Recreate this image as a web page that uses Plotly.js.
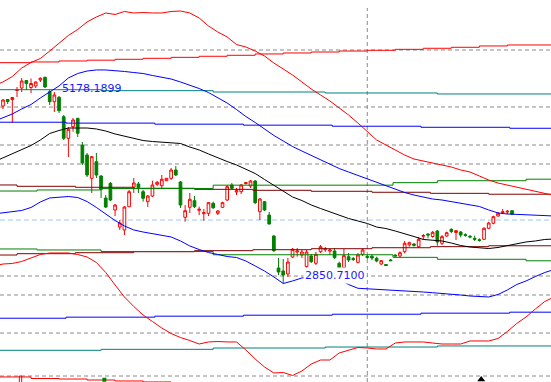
<!DOCTYPE html>
<html><head><meta charset="utf-8">
<script src="https://cdn.plot.ly/plotly-3.0.1.min.js"></script>
<style>html,body{margin:0;padding:0;background:#fff;overflow:hidden}#chart{width:551px;height:382px}</style>
</head><body><div id="chart"></div>
<script>
// ---- candle data (index, open, high, low, close) ----
const candleIdx = [0,1,2,3,4,5,6,7,8,9,10,11,12,13,14,15,16,17,18,19,20,21,22,23,24,25,26,27,28,29,30,31,32,33,34,35,36,37,38,39,40,41,42,43,44,45,46,47,48,49,50,51,52,53,54,55,56,57,58,59,60,61,62,63,64,65,66,67,68,69,70,71,72,73,74,75,76,77,78,79,80,81,82,83,84,85,86,87,88,89,90,91,92,93,94,95,96,97,98,99,100,101,102,103,104,105,106,107,108,109];
const openP = [4848.5,4921.6,4921.6,5022.9,5051,5135.4,5056.6,5073.5,5141,5171.4,
 5009.4,4896.9,4946.4,4728.1,4485.1,4615.6,4710.1,4409.8,4297.3,4035.1,
 4221.9,4061,3813.5,3978.9,3678.5,3487.3,3453.5,3715.6,3937.3,3971,
 3884.4,3771.9,3836,3967.6,3951.9,4008.1,4035.1,4128.5,3993.5,3596.4,
 3708.9,3783.1,3675.1,3636.9,3641.4,3753.9,3641.4,3708.9,3791,3959.8,
 3881,3884.4,3976.6,3948.5,4004.8,3659.4,3771.9,3622.3,3386,3026,
 2992.3,2958.5,3149.8,3206,3172.3,3042.9,3161,3078.9,3209.4,3231.9,
 3217.3,3217.3,3078.9,3029.4,3153.1,3132.9,3090.1,3180.1,3155.4,3157.6,
 3135.1,3071,3065.4,3116,3172.3,3161,3209.4,3284.8,3296,3265.6,
 3382.6,3408.5,3380.4,3442.3,3303.9,3386,3461.4,3425.4,3431,3400.6,
 3382.6,3360.1,3344.4,3348.9,3472.6,3528.9,3611,3649.3,3656,3670.6];
const highP = [4927.3,4927.3,4949.8,5062.3,5163.5,5141,5157.9,5124.1,5171.4,5178.1899,
 5036.4,5006,4961,4747.3,4612.3,4713.5,4713.5,4443.5,4319.8,4286,
 4319.8,4072.3,3847.3,3993.5,3746,3566,3723.5,3903.5,4038.5,3993.5,
 3903.5,3847.3,4008.1,4004.8,4072.3,4038.5,4151,4173.5,4004.8,3734.8,
 3869.8,3836,3715.6,3689.8,3768.5,3771.9,3678.5,3771.9,3959.8,3982.3,
 3926,3971,3993.5,4016,4016,3813.5,3779.8,3656,3397.3,3138.5,
 3127.3,3138.5,3251,3251,3228.5,3228.5,3183.5,3206,3284.8,3262.3,
 3239.8,3251,3096.9,3239.8,3194.8,3149.8,3194.8,3247.6,3172.3,3183.5,
 3153.1,3116,3071,3127.3,3177.9,3211.6,3329.8,3321.9,3307.3,3374.8,
 3408.5,3416.4,3442.3,3453.5,3397.3,3434.4,3472.6,3453.5,3442.3,3416.4,
 3397.3,3389.4,3360.1,3483.9,3546.9,3614.4,3656,3689.8,3678.5,3675.1];
const lowP = [4814.8,4871,4657.3,4949.8,5006,5028.5,4994.8,5051,5118.5,5051,
 4859.8,4781,4769.8,4466,4274.8,4559.4,4499.8,4184.8,4049.8,3869.8,
 4038.5,3813.5,3701,3779.8,3611,3453.5,3397.3,3712.3,3869.8,3869.8,
 3771.9,3712.3,3824.8,3948.5,3926,4004.8,4016,4061,3701,3546.9,
 3644.8,3701,3622.3,3558.1,3611,3689.8,3622.3,3701,3779.8,3914.8,
 3847.3,3858.5,3965.4,3926,3746,3566,3667.3,3515.4,3206,2947.3,
 2850.71,2924.8,3138.5,3153.1,3138.5,3026,3082.3,3059.8,3194.8,3206,
 3172.3,3127.3,3003.5,3014.8,3093.5,3104.8,3078.9,3161,3127.3,3116,
 3090.1,3059.8,3048.5,3104.8,3155.4,3141.9,3191.4,3265.6,3265.6,3251,
 3341,3360.1,3366.9,3276.9,3284.8,3378.1,3416.4,3341,3371.4,3378.1,
 3360.1,3329.8,3321.9,3341,3464.8,3517.6,3603.1,3633.5,3630.1,3625.6];
const closeP = [4916,4899.1,4944.1,5034.1,5129.8,5101.6,5101.6,5118.5,5160.1,5062.3,
 4896.9,4972.3,4795.6,4485.1,4586.4,4691,4541.4,4207.3,4072.3,4278.1,
 4072.3,3911.4,3712.3,3791,3734.8,3532.3,3712.3,3884.4,3982.3,3933.9,
 3810.1,3836,3959.8,3990.1,4023.9,4035.1,4128.5,4072.3,3734.8,3670.6,
 3798.9,3715.6,3686.4,3648.1,3760.6,3704.4,3667.3,3760.6,3940.6,3922.6,
 3895.6,3959.8,3985.6,4004.8,3760.6,3802.3,3678.5,3521,3220.6,2981,
 2947.3,3093.5,3236.4,3217.3,3206,3206,3096.9,3180.1,3265.6,3243.1,
 3228.5,3141.9,3022.6,3164.4,3116,3121.6,3172.3,3228.5,3146.4,3138.5,
 3104.8,3108.1,3054.1,3108.1,3161,3198.1,3303.9,3310.6,3281.4,3348.9,
 3391.6,3397.3,3427.6,3318.5,3378.1,3423.1,3436.6,3445.6,3397.3,3391.6,
 3374.8,3348.9,3335.4,3472.6,3532.3,3603.1,3641.4,3658.3,3663.9,3630.1];

// ---- band / moving-average curves ----
const bandX = [-2,0,2,4,6,8,10,12,14,16,18,20,22,24,26,28,30,32,34,36,38,40,42,44,46,48,50,52,54,56,58,60,62,64,66,68,70,72,74,76,78,80,82,84,86,88,90,92,94,96,98,100,102,104,106,108,110,112,114,116,118];
const outerUpper = [5074,5119,5180,5276,5338,5383,5467,5557,5642,5709,5794,5850,5895,5878,5912,5895,5900,5895,5895,5912,5917,5895,5839,5749,5681,5625,5540,5512,5467,5411,5332,5265,5197,5119,5040,4972,4905,4826,4747,4657,4567,4466,4410,4354,4297,4252,4230,4207,4185,4162,4129,4106,4061,4016,3982,3960,3937,3915,3892,3870,3842];
const innerUpper = [4674,4714,4759,4815,4865,4939,5006,5074,5164,5214,5242,5254,5254,5248,5237,5225,5214,5192,5175,5152,5119,5085,5045,5000,4944,4882,4809,4730,4663,4590,4517,4455,4393,4342,4292,4241,4190,4145,4106,4067,4027,3994,3954,3915,3875,3847,3825,3802,3791,3774,3757,3740,3718,3679,3645,3634,3628,3622,3617,3611,3611];
const midLine = [4219,4264,4309,4359,4404,4466,4539,4573,4601,4601,4601,4590,4567,4534,4511,4483,4460,4449,4444,4432,4427,4387,4354,4309,4264,4224,4185,4140,4089,4022,3954,3892,3825,3785,3735,3695,3656,3617,3583,3555,3527,3487,3470,3442,3414,3380,3347,3335,3330,3307,3279,3262,3251,3245,3257,3279,3302,3319,3330,3347,3352];
const innerLower = [3634,3645,3656,3673,3707,3769,3814,3825,3830,3819,3774,3707,3634,3560,3499,3454,3431,3414,3392,3375,3330,3274,3234,3200,3178,3155,3144,3105,3049,2992,2925,2852,2880,2914,2925,2925,2919,2902,2840,2798,2793,2786,2779,2773,2767,2762,2756,2748,2741,2734,2722,2711,2703,2700,2728,2779,2840,2880,2930,2975,3009];
const outerLower = [3049,3071,3077,3099,3139,3178,3195,3195,3195,3178,3150,3088,2975,2835,2700,2593,2497,2424,2351,2289,2244,2210,2171,2194,2199,2194,2194,2104,2002,1912,1845,1850,1817,1867,1946,1991,1991,2070,2098,2132,2126,2115,2115,2182,2194,2194,2194,2182,2171,2171,2171,2205,2205,2205,2233,2312,2402,2475,2565,2649,2700];

// ---- stepped channel lines ----
const redStepX = [-2,6,12,18,24,30,36,42,48,54,60,66,72,78,84,90,96,102,108,120];
const redStepTop = [5336,5344,5355,5364,5374,5385,5396,5408,5419,5434,5445,5456,5467,5475,5486,5498,5509,5524,5535,5535];
const redStepBotX = [-2,6,12,18,24,30,36];
const redStepBot = [1800,1783,1777,1766,1755,1744,1732];
const tealX = [-2,21,45,69,93,120];
const tealTop = [5032,5021,5006,4995,4984,4984];
const tealBot = [2100,2111,2126,2137,2149,2149];
const blueX = [-2,13.5,32.5,51.5,70.5,89.5,108.5,120];
const blueTop = [4666,4656,4644,4633,4621,4609,4598,4598];
const blueBot = [2461,2473,2484,2495,2506,2518,2529,2529];
const brownX = [-2,3,15.5,28,41,53.5,66,79,91.5,104,120];
const brownTop = [3960,3945,3934,3923,3911,3900,3889,3878,3866,3856,3856];
const brownBot = [3172,3187,3198,3209,3221,3232,3243,3254,3266,3276,3276];
const greenX = [-2,7.3,21,45,83.5,93,112,120];
const greenTop = [3892,3904,3920,3958,3986,4008,4025,4025];
const greenBot = [3240,3229,3212,3175,3146,3124,3107,3107];

// ---- reference levels, cursor and labels ----
const grayLevels = [5478.5,4837.3,4409.8,4196,2936,2722.3,2294.8,1811];
const midLevel = 3566;
const cursorIdx = 78;
const cursorTop = 5951;
const labelTexts = ['5178.1899','2850.7100'];
const labelX = [12.1, 64.2];
const labelY = [5040, 2942];
const labelBg = ['rgba(0,0,0,0)', '#ffffff'];
// bottom signal markers
const sigSquareX = [21.7], sigSquareY = [1769];
const sigTriX = [102.4], sigTriY = [1771];
const sigMarkX = [3.5,3.5,4.0,4.0], sigMarkY = [1735,1811,1811,1735];

const Y0 = 1743.5, Y1 = 6041, X0 = -0.642, X1 = 117.34;

function line(x, y, color, shape) {
  return {type:'scatter', mode:'lines', x:x, y:y, hoverinfo:'skip', showlegend:false,
          line:{color:color, width:1, shape:shape || 'linear'}};
}
const traces = [
  line(redStepX, redStepTop, '#ff0000', 'hv'),
  line(redStepBotX, redStepBot, '#ff0000', 'hv'),
  line(tealX, tealTop, '#008080', 'hv'),
  line(tealX, tealBot, '#008080', 'hv'),
  line(blueX, blueTop, '#0000ff', 'hv'),
  line(blueX, blueBot, '#0000ff', 'hv'),
  line(brownX, brownTop, '#800000', 'hv'),
  line(brownX, brownBot, '#800000', 'hv'),
  line(greenX, greenTop, '#008000', 'hv'),
  line(greenX, greenBot, '#008000', 'hv'),
  line(bandX, outerUpper, '#ff0000'),
  line(bandX, outerLower, '#ff0000'),
  line(bandX, innerUpper, '#0000ff'),
  line(bandX, innerLower, '#0000ff'),
  line(bandX, midLine, '#000000'),
  line(sigMarkX, sigMarkY, '#ff0000'),
  {type:'scatter', mode:'markers', x:sigSquareX, y:sigSquareY, hoverinfo:'skip', showlegend:false,
   marker:{symbol:'square', size:4, color:'#008000'}},
  {type:'scatter', mode:'markers', x:sigTriX, y:sigTriY, hoverinfo:'skip', showlegend:false,
   marker:{symbol:'triangle-up', size:7, color:'#000000'}},
  {type:'candlestick', x:candleIdx, open:openP, high:highP, low:lowP, close:closeP,
   hoverinfo:'skip', showlegend:false, whiskerwidth:0,
   increasing:{line:{color:'#ff0000', width:1}, fillcolor:'#ffffff'},
   decreasing:{line:{color:'#008000', width:1}, fillcolor:'#008000'}}
];

const shapes = grayLevels.map(v => ({type:'line', xref:'paper', x0:0, x1:1, yref:'y', y0:v, y1:v,
  layer:'below', line:{color:'#8a8a8a', width:1, dash:'4px,3px'}}));
shapes.push({type:'line', xref:'paper', x0:0, x1:1, yref:'y', y0:midLevel, y1:midLevel,
  layer:'below', line:{color:'#9cc8f2', width:1, dash:'5px,3px'}});
shapes.push({type:'line', xref:'x', x0:cursorIdx, x1:cursorIdx, yref:'y', y0:Y0, y1:cursorTop,
  layer:'below', line:{color:'#8a8a8a', width:1, dash:'4px,3px'}});

const annotations = labelTexts.map((t, k) => ({x:labelX[k], y:labelY[k], xref:'x', yref:'y', text:t,
  showarrow:false, xanchor:'left', yanchor:'middle', borderpad:1, bgcolor:labelBg[k],
  font:{family:'DejaVu Sans, Verdana, sans-serif', size:11, color:'#1a1aff'}}));

const layout = {
  width:551, height:382, margin:{l:0,r:0,t:0,b:0,pad:0},
  paper_bgcolor:'#ffffff', plot_bgcolor:'#ffffff', showlegend:false, hovermode:false,
  boxgap:0.18,
  xaxis:{range:[X0,X1], showgrid:false, zeroline:false, showticklabels:false, ticks:'',
         showline:false, fixedrange:true, rangeslider:{visible:false}},
  yaxis:{range:[Y0,Y1], showgrid:false, zeroline:false, showticklabels:false, ticks:'',
         showline:false, fixedrange:true},
  shapes:shapes, annotations:annotations
};
Plotly.newPlot('chart', traces, layout, {displayModeBar:false, staticPlot:true});
</script></body></html>
